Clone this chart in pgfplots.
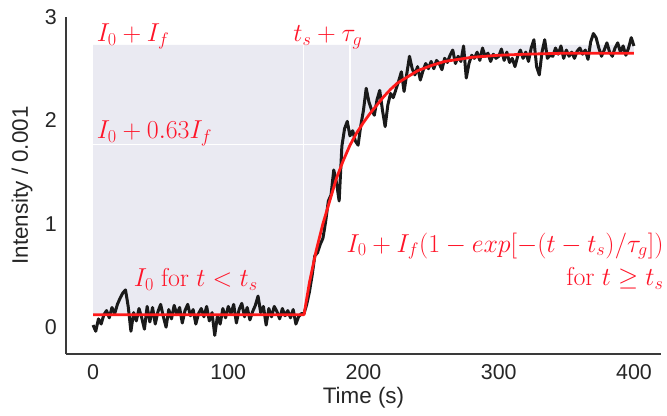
\RequirePackage{fix-cm}
\documentclass[border=0pt]{standalone}
\usepackage[no-math]{fontspec}
\setmainfont{Liberation Sans}
\usepackage{pgfplots}
\pgfplotsset{compat=1.18}
\usepackage{pgfplotstable}
\usepgfplotslibrary{fillbetween}

\definecolor{bgshade}{HTML}{EAEAF2}
\definecolor{ink}{HTML}{262626}
\definecolor{spine}{HTML}{3A3A3A}
\definecolor{fitred}{HTML}{FF1A1A}
\definecolor{labred}{HTML}{FF1428}
\definecolor{dataline}{HTML}{1A1A1A}

% measured intensity (every 2 s)
\pgfplotstableread{
t y
0 0.02
2 -0.04
4 0.08
6 0.03
8 0.12
10 0.16
12 0.09
14 0.19
16 0.13
18 0.22
20 0.28
22 0.33
24 0.36
26 0.20
28 -0.04
30 0.14
32 0.06
34 0.18
36 0.09
38 -0.02
40 0.20
42 0.05
44 0.19
46 0.03
48 0.15
50 0.22
52 0.10
54 0.00
56 0.17
58 0.08
60 0.21
62 0.12
64 0.19
66 0.04
68 0.16
70 0.22
72 0.11
74 0.17
76 0.03
78 0.13
80 0.18
82 0.10
84 0.20
86 0.06
88 0.14
90 -0.08
92 0.11
94 0.03
96 0.18
98 0.09
100 0.20
102 0.13
104 0.22
106 0.04
108 0.17
110 0.23
112 0.10
114 0.19
116 0.07
118 0.15
120 0.21
122 0.30
124 0.14
126 0.20
128 0.02
130 0.18
132 0.10
134 0.20
136 0.15
138 0.08
140 0.18
142 0.11
144 0.16
146 0.09
148 0.17
150 0.03
152 0.10
154 0.13
156 0.13
158 0.22
160 0.34
162 0.50
164 0.69
166 0.72
168 0.80
170 0.86
172 1.02
174 1.22
176 1.28
178 1.52
180 1.40
182 1.22
184 1.75
186 1.92
188 1.99
190 1.85
192 1.90
194 1.80
196 1.76
198 1.95
200 2.10
202 2.31
204 2.18
206 2.10
208 2.05
210 2.20
212 2.29
214 2.10
216 1.94
218 2.15
220 2.26
222 2.22
224 2.30
226 2.38
228 2.47
230 2.28
232 2.45
234 2.62
236 2.50
238 2.44
240 2.52
242 2.39
244 2.48
246 2.55
248 2.50
250 2.57
252 2.50
254 2.58
256 2.55
258 2.49
260 2.60
262 2.56
264 2.63
266 2.68
268 2.55
270 2.62
272 2.57
274 2.72
276 2.41
278 2.55
280 2.63
282 2.60
284 2.66
286 2.58
288 2.70
290 2.62
292 2.65
294 2.57
296 2.64
298 2.60
300 2.62
302 2.69
304 2.58
306 2.66
308 2.56
310 2.60
312 2.52
314 2.62
316 2.68
318 2.60
320 2.66
322 2.57
324 2.70
326 2.78
328 2.52
330 2.44
332 2.66
334 2.78
336 2.60
338 2.63
340 2.62
342 2.70
344 2.64
346 2.72
348 2.60
350 2.68
352 2.62
354 2.66
356 2.60
358 2.67
360 2.70
362 2.64
364 2.68
366 2.59
368 2.76
370 2.84
372 2.80
374 2.70
376 2.62
378 2.68
380 2.75
382 2.66
384 2.62
386 2.70
388 2.75
390 2.66
392 2.72
394 2.63
396 2.70
398 2.80
400 2.72
}\rawdata

% fitted curve
\pgfplotstableread{
t y
0 0.12
156 0.12
160 0.43
165 0.74
170 1.00
175 1.22
180 1.44
185 1.61
190 1.76
195 1.88
200 1.98
205 2.07
210 2.15
215 2.23
220 2.30
225 2.36
230 2.40
235 2.44
240 2.48
250 2.53
260 2.57
270 2.59
280 2.61
290 2.62
300 2.63
320 2.64
350 2.65
400 2.65
}\fitdata

\begin{document}
\begin{tikzpicture}
\begin{axis}[
  scale only axis, width=595bp, height=337bp,
  xmin=-20, xmax=420, ymin=-0.26, ymax=3.0,
  axis x line*=bottom, axis y line*=left,
  axis line style={-, spine, line width=1.25bp},
  xtick={0,100,...,400}, ytick={0,1,2,3},
  major tick length=0,
  tick label style={font=\fontsize{21.5}{25}\selectfont, text=ink, inner sep=0pt},
  /pgf/number format/assume math mode=true,
  xticklabel style={anchor=center, yshift=-18bp},
  yticklabel style={anchor=east, xshift=-9bp},
  xlabel={Time (s)}, ylabel={Intensity / 0.001},
  label style={font=\fontsize{22.5}{26}\selectfont, text=ink},
  xlabel style={at={(axis description cs:0.5,-0.13)}, anchor=center},
  ylabel style={at={(axis description cs:-0.074,0.5)}, anchor=center},
  clip=false,
]
\addplot[name path=fit, draw=none] table {\fitdata};
\addplot[name path=top, draw=none] coordinates {(0,2.73) (400,2.73)};
\addplot[fill=bgshade, draw=none] fill between[of=fit and top];

\addplot[white, line width=1.5bp] coordinates {(155.5,0.12) (155.5,2.73)};
\addplot[white, line width=1.5bp] coordinates {(190,0.12) (190,2.73)};
\addplot[white, line width=1.5bp] coordinates {(0,1.765) (400,1.765)};

\addplot[dataline, line width=3bp, line join=round] table {\rawdata};
\addplot[fitred, line width=2.8bp, line join=round] table {\fitdata};

\begin{scope}[every node/.style={labred, inner sep=0pt, font=\fontsize{26}{30}\selectfont}]
\node[anchor=base west] at (axis cs:2.6,2.76) {$I_0 + I_f$};
\node[anchor=base west] at (axis cs:148,2.76) {$t_s + \tau_g$};
\node[anchor=base west] at (axis cs:2.6,1.82) {$I_0 + 0.63 I_f$};
\node[anchor=base west] at (axis cs:30,0.39) {$I_0\ \mathrm{for}\ t < t_s$};
\node[anchor=base east] at (axis cs:422,0.726) {$I_0 + I_f(1 - exp[-(t - t_s)/\tau_g])$};
\node[anchor=base east] at (axis cs:422,0.40) {$\mathrm{for}\ t \geq t_s$};
\end{scope}

\coordinate (sw) at (rel axis cs:0,0);
\coordinate (ne) at (rel axis cs:1,1);
\end{axis}
\pgfresetboundingbox
\path[use as bounding box] ([shift={(-66bp,-61bp)}]sw) rectangle ([shift={(6bp,17bp)}]ne);
\end{tikzpicture}
\end{document}
